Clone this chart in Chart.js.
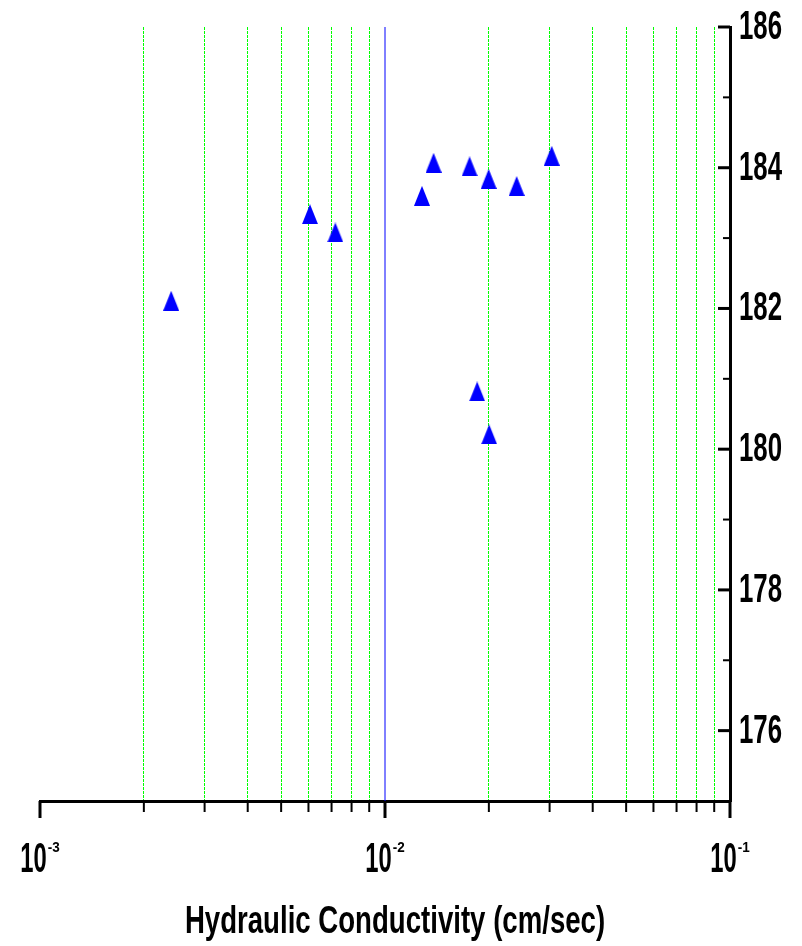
<!doctype html>
<html lang="en">
<head>
<meta charset="utf-8">
<title>Hydraulic Conductivity</title>
<script src="https://cdn.jsdelivr.net/npm/chart.js"></script>
<style>
    body { margin: 0; background: #fff; }
</style>
</head>
<body>
<canvas id="k-chart" width="802" height="946"></canvas>
<script>
    // readings: hydraulic conductivity (cm/sec) vs elevation
    const conductivity = [0.0024, 0.00606, 0.00718, 0.0128, 0.01383, 0.01759, 0.01997, 0.02408, 0.03042, 0.0185, 0.02004];
    const elevation = [182.11, 183.34, 183.08, 183.60, 184.07, 184.02, 183.84, 183.74, 184.17, 180.82, 180.21];
    const xRange = [0.001, 0.1];
    const yRange = [175, 186];
    const yLabelStep = 2;
    const refLineX = 0.01;
    const xTitle = 'Hydraulic Conductivity (cm/sec)';

    const FONT = "'Liberation Sans', Arimo, Arial, sans-serif";

    function isDecade(v) {
        const l = Math.log10(v);
        return Math.abs(l - Math.round(l)) < 1e-6;
    }

    // keep only 1..9 x 10^n ticks
    function isWholeMantissa(v) {
        const m = v / Math.pow(10, Math.floor(Math.log10(v) + 1e-9));
        return Math.abs(m - Math.round(m)) < 1e-6;
    }

    // bold text squeezed/stretched like the original condensed font
    function drawText(ctx, txt, x, y, size, sx, sy, align) {
        ctx.save();
        ctx.translate(x, y);
        ctx.scale(sx, sy);
        ctx.font = 'bold ' + size + 'px ' + FONT;
        ctx.textAlign = align || 'left';
        ctx.textBaseline = 'alphabetic';
        ctx.fillText(txt, 0, 0);
        ctx.restore();
    }

    function textWidth(ctx, txt, size, sx) {
        ctx.save();
        ctx.font = 'bold ' + size + 'px ' + FONT;
        const w = ctx.measureText(txt).width * sx;
        ctx.restore();
        return w;
    }

    // blue triangle marker
    const tri = document.createElement('canvas');
    tri.width = 16;
    tri.height = 20;
    const tctx = tri.getContext('2d');
    tctx.fillStyle = '#0000ff';
    tctx.beginPath();
    tctx.moveTo(8, 0);
    tctx.lineTo(16, 20);
    tctx.lineTo(0, 20);
    tctx.closePath();
    tctx.fill();

    // tick marks of two lengths, tick labels and axis title
    const axisMarks = {
        id: 'axisMarks',
        afterDraw(chart) {
            const {ctx, chartArea, scales: {x, y}} = chart;
            ctx.save();
            ctx.strokeStyle = '#000';
            x.ticks.forEach(t => {
                const px = x.getPixelForValue(t.value);
                const major = isDecade(t.value);
                ctx.lineWidth = major ? 3 : 2;
                ctx.beginPath();
                ctx.moveTo(px, chartArea.bottom);
                ctx.lineTo(px, chartArea.bottom + (major ? 17 : 11));
                ctx.stroke();
            });
            y.ticks.forEach(t => {
                if (t.value <= yRange[0]) return;
                const py = y.getPixelForValue(t.value);
                const major = t.value % yLabelStep === 0;
                ctx.lineWidth = major ? 3 : 2;
                ctx.beginPath();
                ctx.moveTo(chartArea.right, py);
                ctx.lineTo(chartArea.right - (major ? 12 : 7), py);
                ctx.stroke();
            });

            ctx.fillStyle = '#000';

            // 10^n labels
            x.ticks.filter(t => isDecade(t.value)).forEach(t => {
                const px = x.getPixelForValue(t.value);
                const exp = String(Math.round(Math.log10(t.value)));
                const wBase = textWidth(ctx, '10', 25, 0.95);
                const wExp = textWidth(ctx, exp, 15, 0.9);
                const left = px - (wBase + 1 + wExp) / 2;
                const base = chartArea.bottom + 71;
                drawText(ctx, '10', left, base, 25, 0.95, 1.72);
                drawText(ctx, exp, left + wBase + 1, base - 20, 15, 0.9, 1.0);
            });

            // elevation labels
            y.ticks.forEach(t => {
                if (t.value % yLabelStep !== 0) return;
                const py = y.getPixelForValue(t.value);
                drawText(ctx, String(t.value), chartArea.right + 9, py + 12, 30, 0.86, 1.36);
            });

            // axis title
            const cx = (chartArea.left + chartArea.right) / 2 + 10;
            drawText(ctx, xTitle, cx, chartArea.bottom + 132, 30, 0.92, 1.30, 'center');
            ctx.restore();
        }
    };

    const points = conductivity.map((k, i) => ({x: k, y: elevation[i]}));

    new Chart(document.getElementById('k-chart').getContext('2d'), {
        type: 'scatter',
        plugins: [axisMarks],
        data: {
            datasets: [{
                data: points,
                pointStyle: tri,
                radius: 8,
                order: 1
            }, {
                type: 'line',
                data: [{x: refLineX, y: yRange[0]}, {x: refLineX, y: yRange[1]}],
                borderColor: '#0000ff',
                borderWidth: 1,
                pointRadius: 0,
                order: 2
            }]
        },
        options: {
            responsive: false,
            animation: false,
            layout: {padding: {left: 40, top: 27, right: 0, bottom: 7}},
            plugins: {legend: {display: false}, tooltip: {enabled: false}},
            scales: {
                x: {
                    type: 'logarithmic',
                    position: 'bottom',
                    min: xRange[0],
                    max: xRange[1],
                    afterFit: s => { s.height = 138; },
                    afterBuildTicks: s => { s.ticks = s.ticks.filter(t => isWholeMantissa(t.value)); },
                    ticks: {autoSkip: false, callback: () => ''},
                    grid: {
                        drawTicks: false,
                        lineWidth: 1,
                        color: c => (c.tick && !isDecade(c.tick.value)) ? '#00ff00' : 'transparent'
                    },
                    border: {display: true, color: '#000', width: 3, dash: [3, 1]}
                },
                y: {
                    position: 'right',
                    min: yRange[0],
                    max: yRange[1],
                    afterFit: s => { s.width = 72; },
                    ticks: {stepSize: 1, autoSkip: false, callback: () => ''},
                    grid: {drawOnChartArea: false, drawTicks: false},
                    border: {display: true, color: '#000', width: 3}
                }
            }
        }
    });
</script>
</body>
</html>
